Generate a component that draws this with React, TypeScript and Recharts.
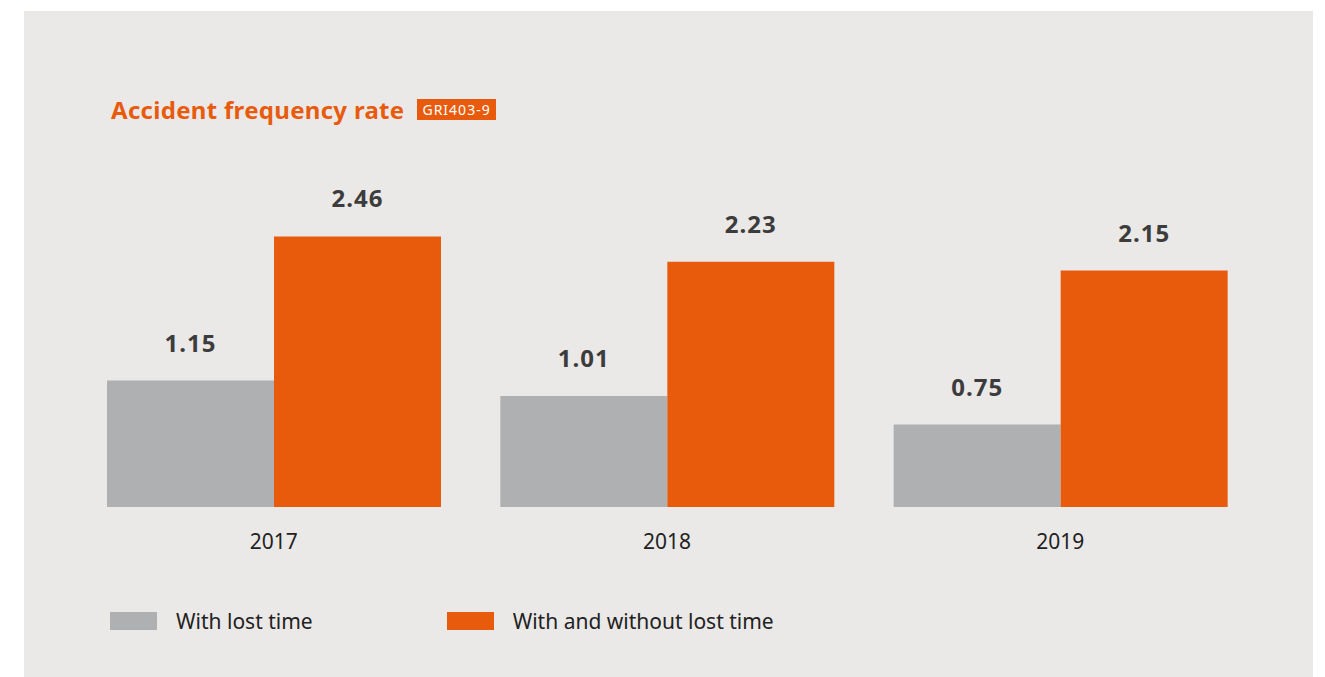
import { BarChart, Bar, XAxis, YAxis, LabelList } from 'recharts'

const years = ['2017', '2018', '2019']
const withLostTime = [1.15, 1.01, 0.75]
const withAndWithoutLostTime = [2.46, 2.23, 2.15]

const seriesNames = ['With lost time', 'With and without lost time']
const colors = ['#afb0b1', '#e95b0c']

const data = years.map((year, i) => ({
  year,
  lost: withLostTime[i],
  all: withAndWithoutLostTime[i],
}))

const font = '"Noto Sans", "Open Sans", sans-serif'

export default function App() {
  return (
    <div style={{ position: 'absolute', left: 24, top: 11, width: 1289, height: 666, background: '#eae9e7', fontFamily: font }}>
      <div style={{ position: 'absolute', left: 87, top: 82, display: 'flex', alignItems: 'center' }}>
        <span style={{ color: '#e95b0c', fontSize: 24, fontWeight: 700, letterSpacing: 0.3 }}>Accident frequency rate</span>
        <span style={{ marginLeft: 13, background: '#e95b0c', color: '#fff', fontSize: 14, letterSpacing: 1, padding: '0 5px', lineHeight: '21px' }}>GRI403-9</span>
      </div>

      <BarChart
        width={1289}
        height={560}
        data={data}
        margin={{ top: 221, right: 56, left: 53, bottom: 34 }}
        barGap={0}
        barSize={167}
      >
        <XAxis
          dataKey="year"
          axisLine={false}
          tickLine={false}
          tick={{ fontSize: 21, fill: '#222', fontFamily: font }}
          dy={19}
        />
        <YAxis hide domain={[0, 2.5]} />
        <Bar dataKey="lost" name={seriesNames[0]} fill={colors[0]} isAnimationActive={false}>
          <LabelList dataKey="lost" position="top" offset={29} fill="#3c3c3c" fontSize={24} fontWeight={700} fontFamily={font} letterSpacing={1} formatter={(v: number) => v.toFixed(2)} />
        </Bar>
        <Bar dataKey="all" name={seriesNames[1]} fill={colors[1]} isAnimationActive={false}>
          <LabelList dataKey="all" position="top" offset={29} fill="#3c3c3c" fontSize={24} fontWeight={700} fontFamily={font} letterSpacing={1} formatter={(v: number) => v.toFixed(2)} />
        </Bar>
      </BarChart>

      <div style={{ position: 'absolute', left: 86, top: 596, display: 'flex', alignItems: 'center' }}>
        {seriesNames.map((name, i) => (
          <div key={name} style={{ display: 'flex', alignItems: 'center', marginRight: i === 0 ? 134 : 0 }}>
            <span style={{ width: 47, height: 18, background: colors[i], display: 'inline-block' }} />
            <span style={{ marginLeft: 19, fontSize: 21, color: '#222' }}>{name}</span>
          </div>
        ))}
      </div>
    </div>
  )
}
